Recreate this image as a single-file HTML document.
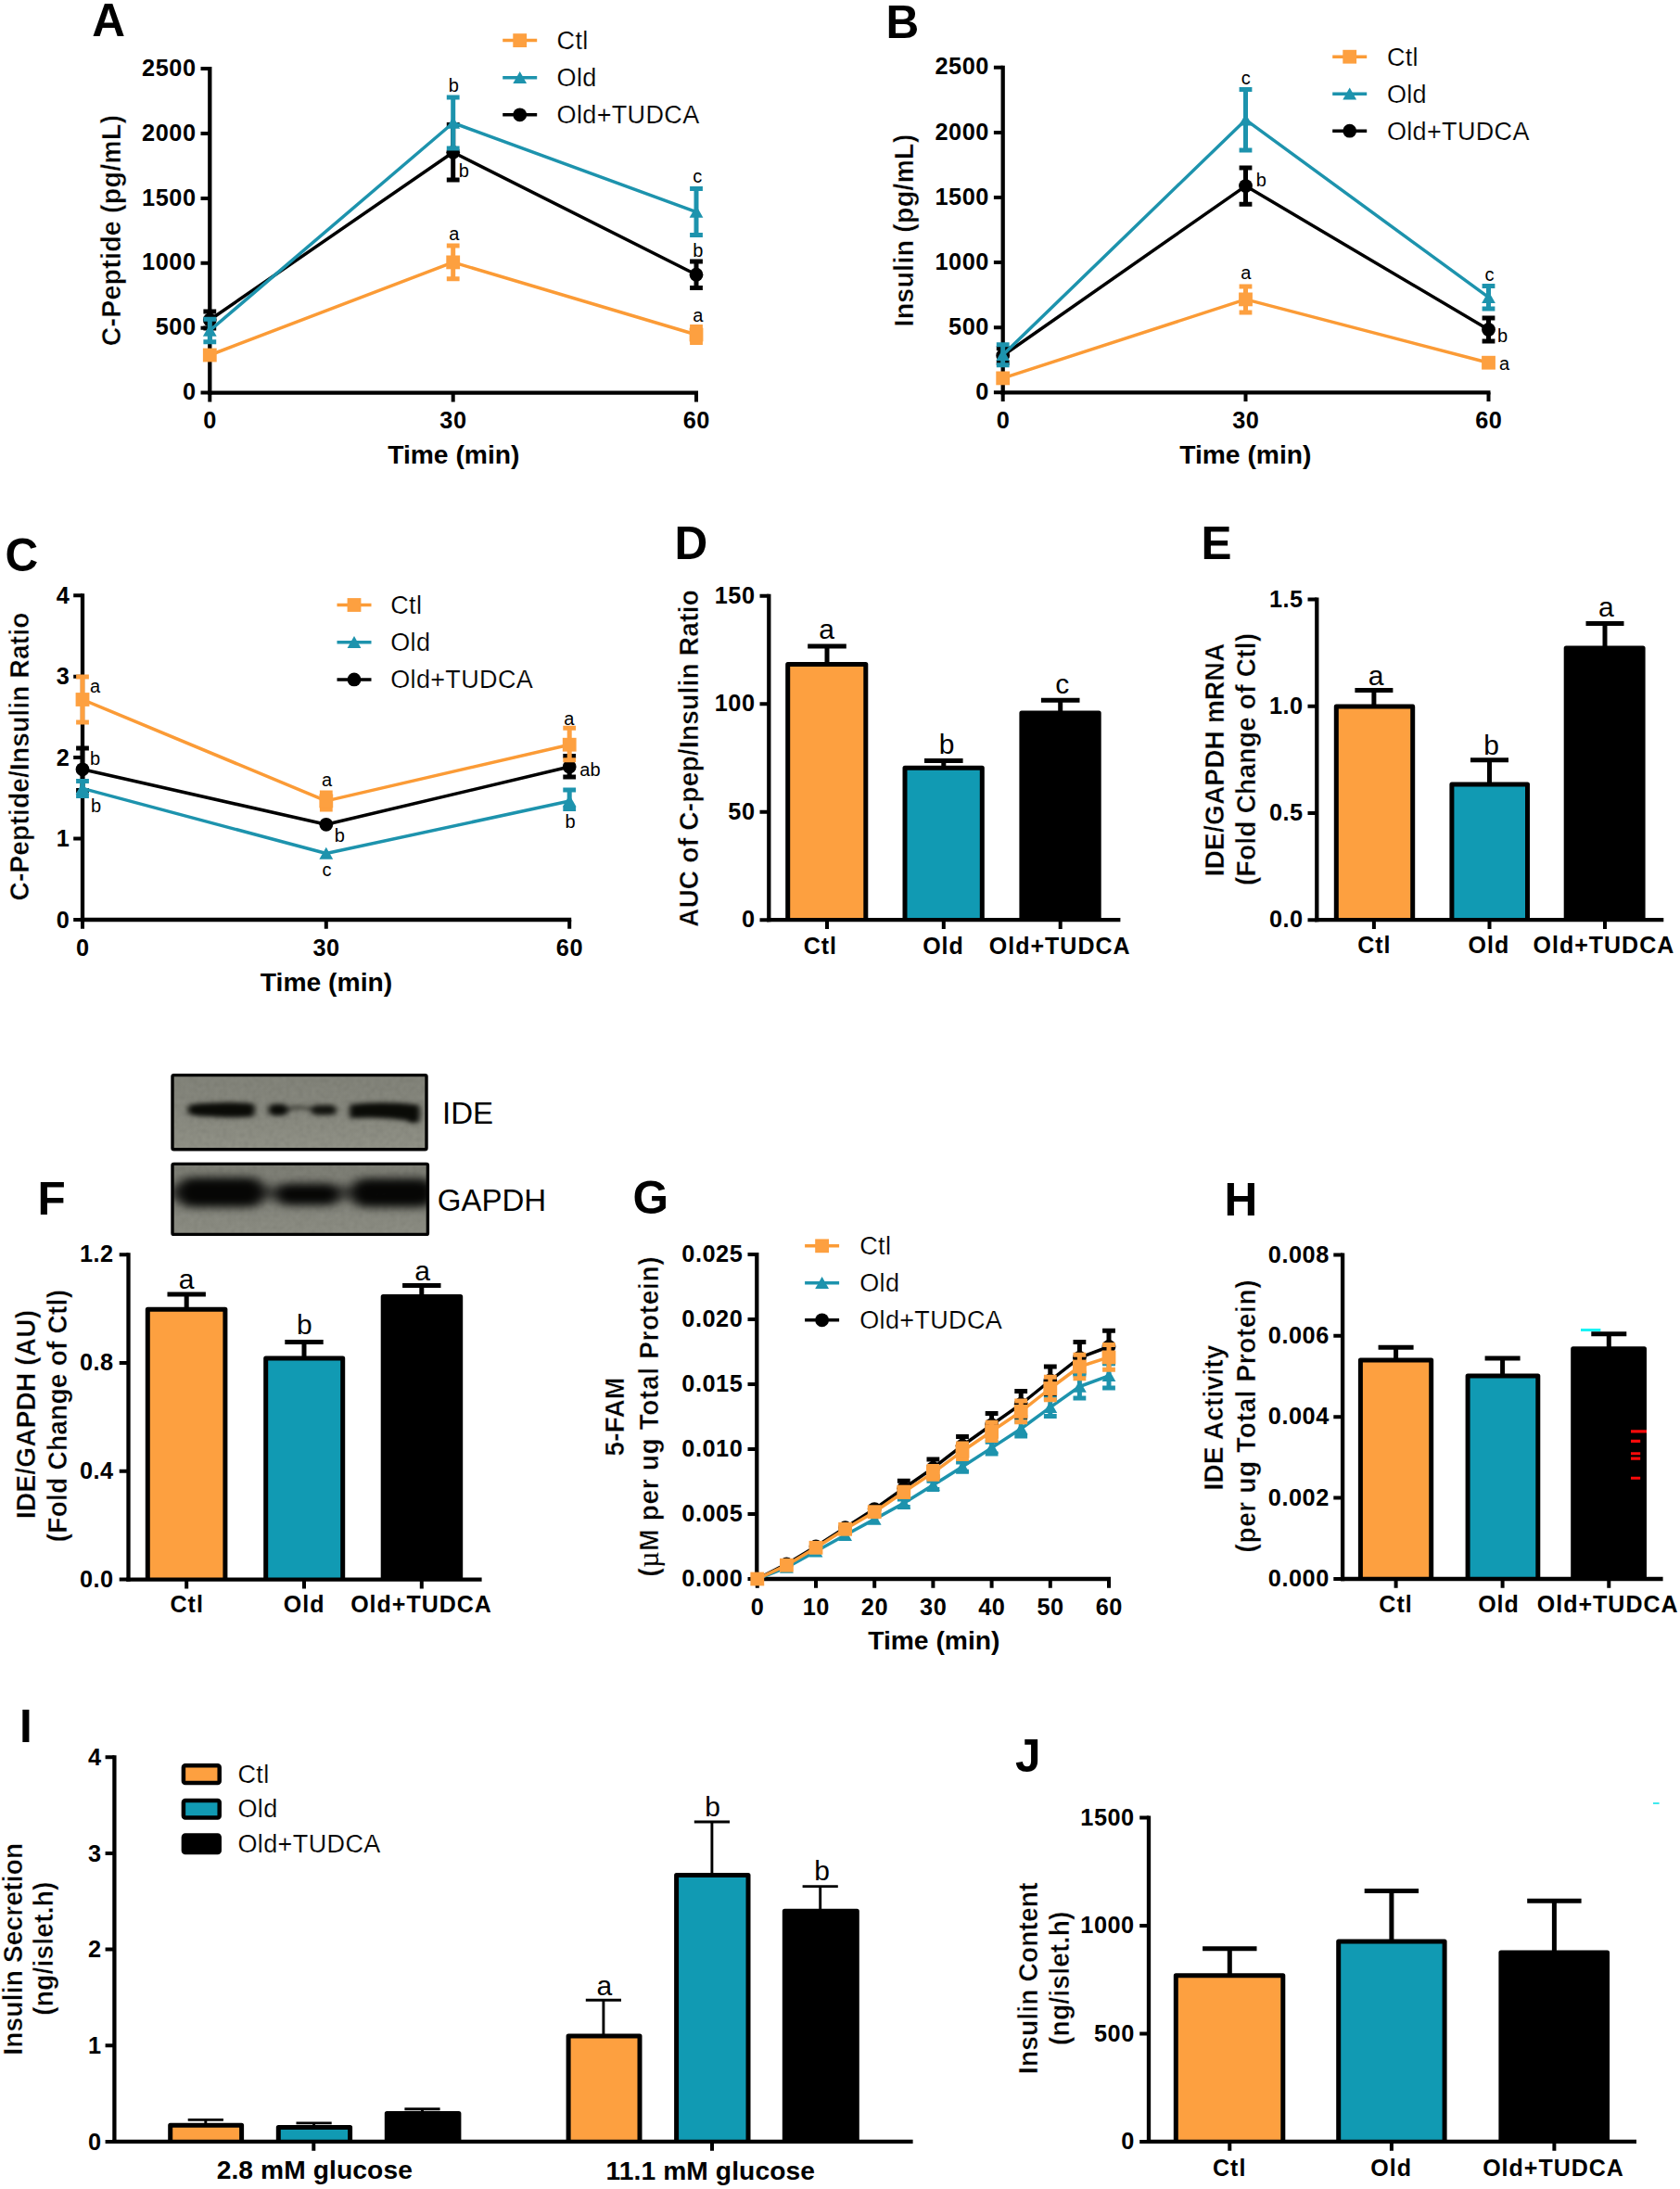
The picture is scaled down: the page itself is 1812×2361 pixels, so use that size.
<!DOCTYPE html>
<html lang="en">
<head>
<meta charset="utf-8">
<title>Figure</title>
<style>html,body{margin:0;padding:0;background:#fff}svg{display:block}</style>
</head>
<body>
<svg width="1812" height="2361" viewBox="0 0 1812 2361" font-family="'Liberation Sans', Arial, Helvetica, sans-serif" fill="#000">
<defs><filter id="b3" color-interpolation-filters="sRGB" x="-20%" y="-60%" width="140%" height="220%"><feGaussianBlur stdDeviation="3.2 2.4"/></filter><filter id="b5" color-interpolation-filters="sRGB" x="-20%" y="-70%" width="140%" height="240%"><feGaussianBlur stdDeviation="7 5"/></filter><filter id="nz" color-interpolation-filters="sRGB" x="0" y="0" width="100%" height="100%"><feTurbulence type="fractalNoise" baseFrequency="0.22" numOctaves="2" seed="4"/><feColorMatrix type="matrix" values="0 0 0 0 0  0 0 0 0 0  0 0 0 0 0  0.8 0 0 0 -0.28"/><feGaussianBlur stdDeviation="0.8"/></filter><clipPath id="c1"><rect x="186" y="1160" width="274" height="80"/></clipPath><clipPath id="c2"><rect x="186" y="1256" width="275" height="75"/></clipPath><linearGradient id="bg1" x1="0" y1="0" x2="0" y2="1"><stop offset="0" stop-color="#83847a"/><stop offset="0.55" stop-color="#898a80"/><stop offset="1" stop-color="#929388"/></linearGradient><linearGradient id="bg2" x1="0" y1="0" x2="0" y2="1"><stop offset="0" stop-color="#7d7e75"/><stop offset="1" stop-color="#8d8e84"/></linearGradient></defs>
<rect width="1812" height="2361" fill="#fff"/>
<g id="panelA">
<text x="99.3" y="38.6" font-size="49.5" font-weight="700">A</text>
<path d="M226.3 72.1V425.75" stroke="#000" stroke-width="4.3" fill="none"/>
<path d="M224.15 423.6H753" stroke="#000" stroke-width="4.3" fill="none"/>
<text x="211.55" y="431.2" font-size="25.3" font-weight="700" text-anchor="end" letter-spacing="0.55">0</text>
<text x="211.55" y="361.3" font-size="25.3" font-weight="700" text-anchor="end" letter-spacing="0.55">500</text>
<text x="211.55" y="291.4" font-size="25.3" font-weight="700" text-anchor="end" letter-spacing="0.55">1000</text>
<text x="211.55" y="221.5" font-size="25.3" font-weight="700" text-anchor="end" letter-spacing="0.55">1500</text>
<text x="211.55" y="151.6" font-size="25.3" font-weight="700" text-anchor="end" letter-spacing="0.55">2000</text>
<text x="211.55" y="81.7" font-size="25.3" font-weight="700" text-anchor="end" letter-spacing="0.55">2500</text>
<path d="M216.5 423.6H226.3M216.5 353.7H226.3M216.5 283.8H226.3M216.5 213.9H226.3M216.5 144H226.3M216.5 74.1H226.3M226.3 423.6V433.4M488.7 423.6V433.4M751 423.6V433.4" stroke="#000" stroke-width="4.0" fill="none"/>
<text x="226.58" y="461.9" font-size="25.3" font-weight="700" text-anchor="middle" letter-spacing="0.55">0</text>
<text x="488.97" y="461.9" font-size="25.3" font-weight="700" text-anchor="middle" letter-spacing="0.55">30</text>
<text x="751.27" y="461.9" font-size="25.3" font-weight="700" text-anchor="middle" letter-spacing="0.55">60</text>
<text x="489.3" y="500" font-size="28.25" font-weight="700" text-anchor="middle">Time (min)</text>
<text transform="translate(129.6 248.5) rotate(-90) scale(1 1.06)" font-size="28.5" font-weight="700" text-anchor="middle" stroke="#fff" stroke-width="0.4" letter-spacing="0.25">C-Peptide (pg/mL)</text>
<path d="M226.3 383L488.7 282.9L751 361" stroke="#FB9B36" stroke-width="3.5" fill="none" stroke-linejoin="round"/>
<path d="M488.7 265.1V300.7" stroke="#FDA040" stroke-width="5.0" fill="none"/>
<path d="M481.8 265.1h13.8M481.8 300.7h13.8" stroke="#FDA040" stroke-width="5.0" fill="none"/>
<path d="M751 352.6V369.4" stroke="#FDA040" stroke-width="5.0" fill="none"/>
<path d="M744.1 352.6h13.8M744.1 369.4h13.8" stroke="#FDA040" stroke-width="5.0" fill="none"/>
<rect x="218.9" y="375.6" width="14.8" height="14.8" fill="#FDA040"/>
<rect x="481.3" y="275.5" width="14.8" height="14.8" fill="#FDA040"/>
<rect x="743.6" y="353.6" width="14.8" height="14.8" fill="#FDA040"/>
<path d="M226.3 345L488.7 164.3L751 296.2" stroke="#000000" stroke-width="3.5" fill="none" stroke-linejoin="round"/>
<path d="M226.3 336V354" stroke="#000000" stroke-width="5.0" fill="none"/>
<path d="M219.4 336h13.8M219.4 354h13.8" stroke="#000000" stroke-width="5.0" fill="none"/>
<path d="M488.7 134.6V194" stroke="#000000" stroke-width="5.0" fill="none"/>
<path d="M481.8 134.6h13.8M481.8 194h13.8" stroke="#000000" stroke-width="5.0" fill="none"/>
<path d="M751 281.9V310.5" stroke="#000000" stroke-width="5.0" fill="none"/>
<path d="M744.1 281.9h13.8M744.1 310.5h13.8" stroke="#000000" stroke-width="5.0" fill="none"/>
<circle cx="226.3" cy="345" r="7.4" fill="#000000"/>
<circle cx="488.7" cy="164.3" r="7.4" fill="#000000"/>
<circle cx="751" cy="296.2" r="7.4" fill="#000000"/>
<path d="M226.3 356.5L488.7 132.5L751 228.6" stroke="#1D93AD" stroke-width="3.5" fill="none" stroke-linejoin="round"/>
<path d="M226.3 344.2V368.8" stroke="#1D93AD" stroke-width="5.0" fill="none"/>
<path d="M219.4 344.2h13.8M219.4 368.8h13.8" stroke="#1D93AD" stroke-width="5.0" fill="none"/>
<path d="M488.7 105V160" stroke="#1D93AD" stroke-width="5.0" fill="none"/>
<path d="M481.8 105h13.8M481.8 160h13.8" stroke="#1D93AD" stroke-width="5.0" fill="none"/>
<path d="M751 203.6V253.6" stroke="#1D93AD" stroke-width="5.0" fill="none"/>
<path d="M744.1 203.6h13.8M744.1 253.6h13.8" stroke="#1D93AD" stroke-width="5.0" fill="none"/>
<path d="M226.3 349.7L233.7 362.7H218.9Z" fill="#1D93AD"/>
<path d="M488.7 125.7L496.1 138.7H481.3Z" fill="#1D93AD"/>
<path d="M751 221.8L758.4 234.8H743.6Z" fill="#1D93AD"/>
<path d="M542.2 43.6h37" stroke="#FB9B36" stroke-width="3.5" fill="none"/>
<rect x="553.3" y="36.2" width="14.8" height="14.8" fill="#FDA040"/>
<text x="600.6" y="53" font-size="27" letter-spacing="0.35" stroke="#fff" stroke-width="0.2">Ctl</text>
<path d="M542.2 83.7h37" stroke="#1D93AD" stroke-width="3.5" fill="none"/>
<path d="M560.7 76.9L568.1 89.9H553.3Z" fill="#1D93AD"/>
<text x="600.6" y="93.1" font-size="27" letter-spacing="0.35" stroke="#fff" stroke-width="0.2">Old</text>
<path d="M542.2 123.8h37" stroke="#000000" stroke-width="3.5" fill="none"/>
<circle cx="560.7" cy="123.8" r="7.4" fill="#000000"/>
<text x="600.6" y="133.2" font-size="27" letter-spacing="0.35" stroke="#fff" stroke-width="0.2">Old+TUDCA</text>
<text x="489.3" y="98.8" font-size="20" text-anchor="middle">b</text>
<text x="500.2" y="190.5" font-size="20" text-anchor="middle">b</text>
<text x="752.3" y="197.4" font-size="20" text-anchor="middle">c</text>
<text x="489.7" y="258.6" font-size="20" text-anchor="middle">a</text>
<text x="752.8" y="277" font-size="20" text-anchor="middle">b</text>
<text x="752.8" y="347" font-size="20" text-anchor="middle">a</text>
</g>
<g id="panelB">
<text x="955.5" y="41" font-size="49.5" font-weight="700">B</text>
<path d="M1081.7 70.8V425.45" stroke="#000" stroke-width="4.3" fill="none"/>
<path d="M1079.55 423.3H1607.5" stroke="#000" stroke-width="4.3" fill="none"/>
<text x="1066.95" y="430.9" font-size="25.3" font-weight="700" text-anchor="end" letter-spacing="0.55">0</text>
<text x="1066.95" y="360.8" font-size="25.3" font-weight="700" text-anchor="end" letter-spacing="0.55">500</text>
<text x="1066.95" y="290.7" font-size="25.3" font-weight="700" text-anchor="end" letter-spacing="0.55">1000</text>
<text x="1066.95" y="220.6" font-size="25.3" font-weight="700" text-anchor="end" letter-spacing="0.55">1500</text>
<text x="1066.95" y="150.5" font-size="25.3" font-weight="700" text-anchor="end" letter-spacing="0.55">2000</text>
<text x="1066.95" y="80.4" font-size="25.3" font-weight="700" text-anchor="end" letter-spacing="0.55">2500</text>
<path d="M1071.9 423.3H1081.7M1071.9 353.2H1081.7M1071.9 283.1H1081.7M1071.9 213H1081.7M1071.9 142.9H1081.7M1071.9 72.8H1081.7M1081.7 423.3V433.1M1343.5 423.3V433.1M1605.5 423.3V433.1" stroke="#000" stroke-width="4.0" fill="none"/>
<text x="1081.98" y="461.6" font-size="25.3" font-weight="700" text-anchor="middle" letter-spacing="0.55">0</text>
<text x="1343.78" y="461.6" font-size="25.3" font-weight="700" text-anchor="middle" letter-spacing="0.55">30</text>
<text x="1605.78" y="461.6" font-size="25.3" font-weight="700" text-anchor="middle" letter-spacing="0.55">60</text>
<text x="1343.3" y="500" font-size="28.25" font-weight="700" text-anchor="middle">Time (min)</text>
<text transform="translate(985.3 248.5) rotate(-90) scale(1 1.06)" font-size="28.5" font-weight="700" text-anchor="middle" stroke="#fff" stroke-width="0.4" letter-spacing="0.25">Insulin (pg/mL)</text>
<path d="M1081.7 407.9L1343.5 322.9L1605.5 391.2" stroke="#FB9B36" stroke-width="3.5" fill="none" stroke-linejoin="round"/>
<path d="M1343.5 308.9V336.9" stroke="#FDA040" stroke-width="5.0" fill="none"/>
<path d="M1336.6 308.9h13.8M1336.6 336.9h13.8" stroke="#FDA040" stroke-width="5.0" fill="none"/>
<rect x="1074.3" y="400.5" width="14.8" height="14.8" fill="#FDA040"/>
<rect x="1336.1" y="315.5" width="14.8" height="14.8" fill="#FDA040"/>
<rect x="1598.1" y="383.8" width="14.8" height="14.8" fill="#FDA040"/>
<path d="M1081.7 383.5L1343.5 200.6L1605.5 355.5" stroke="#000000" stroke-width="3.5" fill="none" stroke-linejoin="round"/>
<path d="M1081.7 375.5V391.5" stroke="#000000" stroke-width="5.0" fill="none"/>
<path d="M1074.8 375.5h13.8M1074.8 391.5h13.8" stroke="#000000" stroke-width="5.0" fill="none"/>
<path d="M1343.5 181V220.2" stroke="#000000" stroke-width="5.0" fill="none"/>
<path d="M1336.6 181h13.8M1336.6 220.2h13.8" stroke="#000000" stroke-width="5.0" fill="none"/>
<path d="M1605.5 342.9V368.1" stroke="#000000" stroke-width="5.0" fill="none"/>
<path d="M1598.6 342.9h13.8M1598.6 368.1h13.8" stroke="#000000" stroke-width="5.0" fill="none"/>
<circle cx="1081.7" cy="383.5" r="7.4" fill="#000000"/>
<circle cx="1343.5" cy="200.6" r="7.4" fill="#000000"/>
<circle cx="1605.5" cy="355.5" r="7.4" fill="#000000"/>
<path d="M1081.7 382.7L1343.5 129.2L1605.5 320.7" stroke="#1D93AD" stroke-width="3.5" fill="none" stroke-linejoin="round"/>
<path d="M1081.7 371.7V393.7" stroke="#1D93AD" stroke-width="5.0" fill="none"/>
<path d="M1074.8 371.7h13.8M1074.8 393.7h13.8" stroke="#1D93AD" stroke-width="5.0" fill="none"/>
<path d="M1343.5 96.4V162" stroke="#1D93AD" stroke-width="5.0" fill="none"/>
<path d="M1336.6 96.4h13.8M1336.6 162h13.8" stroke="#1D93AD" stroke-width="5.0" fill="none"/>
<path d="M1605.5 308.5V332.9" stroke="#1D93AD" stroke-width="5.0" fill="none"/>
<path d="M1598.6 308.5h13.8M1598.6 332.9h13.8" stroke="#1D93AD" stroke-width="5.0" fill="none"/>
<path d="M1081.7 375.9L1089.1 388.9H1074.3Z" fill="#1D93AD"/>
<path d="M1343.5 122.4L1350.9 135.4H1336.1Z" fill="#1D93AD"/>
<path d="M1605.5 313.9L1612.9 326.9H1598.1Z" fill="#1D93AD"/>
<path d="M1437.2 61.2h37" stroke="#FB9B36" stroke-width="3.5" fill="none"/>
<rect x="1448.3" y="53.8" width="14.8" height="14.8" fill="#FDA040"/>
<text x="1495.9" y="70.6" font-size="27" letter-spacing="0.35" stroke="#fff" stroke-width="0.2">Ctl</text>
<path d="M1437.2 101.2h37" stroke="#1D93AD" stroke-width="3.5" fill="none"/>
<path d="M1455.7 94.4L1463.1 107.4H1448.3Z" fill="#1D93AD"/>
<text x="1495.9" y="110.6" font-size="27" letter-spacing="0.35" stroke="#fff" stroke-width="0.2">Old</text>
<path d="M1437.2 141.2h37" stroke="#000000" stroke-width="3.5" fill="none"/>
<circle cx="1455.7" cy="141.2" r="7.4" fill="#000000"/>
<text x="1495.9" y="150.6" font-size="27" letter-spacing="0.35" stroke="#fff" stroke-width="0.2">Old+TUDCA</text>
<text x="1343.8" y="90.5" font-size="20" text-anchor="middle">c</text>
<text x="1360.3" y="200.5" font-size="20" text-anchor="middle">b</text>
<text x="1343.8" y="300.7" font-size="20" text-anchor="middle">a</text>
<text x="1606.5" y="303" font-size="20" text-anchor="middle">c</text>
<text x="1620.6" y="368.6" font-size="20" text-anchor="middle">b</text>
<text x="1622.5" y="399" font-size="20" text-anchor="middle">a</text>
</g>
<g id="panelC">
<text x="5.5" y="616" font-size="49.5" font-weight="700">C</text>
<path d="M89 640.2V994.15" stroke="#000" stroke-width="4.3" fill="none"/>
<path d="M86.85 992H616.2" stroke="#000" stroke-width="4.3" fill="none"/>
<text x="75.25" y="1000.6" font-size="25.3" font-weight="700" text-anchor="end" letter-spacing="0.55">0</text>
<text x="75.25" y="913.15" font-size="25.3" font-weight="700" text-anchor="end" letter-spacing="0.55">1</text>
<text x="75.25" y="825.7" font-size="25.3" font-weight="700" text-anchor="end" letter-spacing="0.55">2</text>
<text x="75.25" y="738.25" font-size="25.3" font-weight="700" text-anchor="end" letter-spacing="0.55">3</text>
<text x="75.25" y="650.8" font-size="25.3" font-weight="700" text-anchor="end" letter-spacing="0.55">4</text>
<path d="M79.2 992H89M79.2 904.55H89M79.2 817.1H89M79.2 729.65H89M79.2 642.2H89M89 992V1001.8M351.8 992V1001.8M614.2 992V1001.8" stroke="#000" stroke-width="4.0" fill="none"/>
<text x="89.28" y="1030.8" font-size="25.3" font-weight="700" text-anchor="middle" letter-spacing="0.55">0</text>
<text x="352.07" y="1030.8" font-size="25.3" font-weight="700" text-anchor="middle" letter-spacing="0.55">30</text>
<text x="614.48" y="1030.8" font-size="25.3" font-weight="700" text-anchor="middle" letter-spacing="0.55">60</text>
<text x="352" y="1069" font-size="28.25" font-weight="700" text-anchor="middle">Time (min)</text>
<text transform="translate(31.2 816) rotate(-90) scale(1 1.06)" font-size="28" font-weight="700" text-anchor="middle" stroke="#fff" stroke-width="0.4" letter-spacing="0.2">C-Peptide/Insulin Ratio</text>
<path d="M89 829.8L351.8 889.3L614.2 827" stroke="#000000" stroke-width="3.5" fill="none" stroke-linejoin="round"/>
<path d="M89 807V852.6" stroke="#000000" stroke-width="5.0" fill="none"/>
<path d="M82.1 807h13.8M82.1 852.6h13.8" stroke="#000000" stroke-width="5.0" fill="none"/>
<path d="M614.2 815.5V838" stroke="#000000" stroke-width="5.0" fill="none"/>
<path d="M607.3 815.5h13.8M607.3 838h13.8" stroke="#000000" stroke-width="5.0" fill="none"/>
<circle cx="89" cy="829.8" r="7.4" fill="#000000"/>
<circle cx="351.8" cy="889.3" r="7.4" fill="#000000"/>
<circle cx="614.2" cy="827" r="7.4" fill="#000000"/>
<path d="M89 850.4L351.8 920.5L614.2 864" stroke="#1D93AD" stroke-width="3.5" fill="none" stroke-linejoin="round"/>
<path d="M89 842.4V858.4" stroke="#1D93AD" stroke-width="5.0" fill="none"/>
<path d="M82.1 842.4h13.8M82.1 858.4h13.8" stroke="#1D93AD" stroke-width="5.0" fill="none"/>
<path d="M614.2 852V872.6" stroke="#1D93AD" stroke-width="5.0" fill="none"/>
<path d="M607.3 852h13.8M607.3 872.6h13.8" stroke="#1D93AD" stroke-width="5.0" fill="none"/>
<path d="M89 843.6L96.4 856.6H81.6Z" fill="#1D93AD"/>
<path d="M351.8 913.7L359.2 926.7H344.4Z" fill="#1D93AD"/>
<path d="M614.2 857.2L621.6 870.2H606.8Z" fill="#1D93AD"/>
<path d="M89 754.5L351.8 863.9L614.2 803.2" stroke="#FB9B36" stroke-width="3.5" fill="none" stroke-linejoin="round"/>
<path d="M89 730V779" stroke="#FDA040" stroke-width="5.0" fill="none"/>
<path d="M82.1 730h13.8M82.1 779h13.8" stroke="#FDA040" stroke-width="5.0" fill="none"/>
<path d="M351.8 854.9V872.9" stroke="#FDA040" stroke-width="5.0" fill="none"/>
<path d="M344.9 854.9h13.8M344.9 872.9h13.8" stroke="#FDA040" stroke-width="5.0" fill="none"/>
<path d="M614.2 785.2V819.8" stroke="#FDA040" stroke-width="5.0" fill="none"/>
<path d="M607.3 785.2h13.8M607.3 819.8h13.8" stroke="#FDA040" stroke-width="5.0" fill="none"/>
<rect x="81.6" y="747.1" width="14.8" height="14.8" fill="#FDA040"/>
<rect x="344.4" y="856.5" width="14.8" height="14.8" fill="#FDA040"/>
<rect x="606.8" y="795.8" width="14.8" height="14.8" fill="#FDA040"/>
<path d="M363.5 652.5h37" stroke="#FB9B36" stroke-width="3.5" fill="none"/>
<rect x="374.6" y="645.1" width="14.8" height="14.8" fill="#FDA040"/>
<text x="421.2" y="661.9" font-size="27" letter-spacing="0.35" stroke="#fff" stroke-width="0.2">Ctl</text>
<path d="M363.5 692.7h37" stroke="#1D93AD" stroke-width="3.5" fill="none"/>
<path d="M382 685.9L389.4 698.9H374.6Z" fill="#1D93AD"/>
<text x="421.2" y="702.1" font-size="27" letter-spacing="0.35" stroke="#fff" stroke-width="0.2">Old</text>
<path d="M363.5 732.9h37" stroke="#000000" stroke-width="3.5" fill="none"/>
<circle cx="382" cy="732.9" r="7.4" fill="#000000"/>
<text x="421.2" y="742.3" font-size="27" letter-spacing="0.35" stroke="#fff" stroke-width="0.2">Old+TUDCA</text>
<text x="102.6" y="746.9" font-size="20" text-anchor="middle">a</text>
<text x="102.6" y="825" font-size="20" text-anchor="middle">b</text>
<text x="103.5" y="875.7" font-size="20" text-anchor="middle">b</text>
<text x="352.6" y="847.6" font-size="20" text-anchor="middle">a</text>
<text x="366.4" y="907.6" font-size="20" text-anchor="middle">b</text>
<text x="352.6" y="945" font-size="20" text-anchor="middle">c</text>
<text x="613.8" y="781.7" font-size="20" text-anchor="middle">a</text>
<text x="625.3" y="836.9" font-size="20">ab</text>
<text x="615" y="892.6" font-size="20" text-anchor="middle">b</text>
</g>
<g id="panelD">
<text x="727.5" y="603" font-size="49.5" font-weight="700">D</text>
<path d="M849.7 992.2V716.5H933.8V992.2" fill="#FDA040" stroke="#000" stroke-width="5.0" stroke-linejoin="round"/>
<path d="M976 992.2V828.2H1059.3V992.2" fill="#119AB3" stroke="#000" stroke-width="5.0" stroke-linejoin="round"/>
<path d="M1101.9 992.2V768.9H1185.2V992.2" fill="#000000" stroke="#000" stroke-width="5.0" stroke-linejoin="round"/>
<path d="M892 716V696.9M871.2 696.9h41.6" stroke="#000" stroke-width="5.0" fill="none"/>
<path d="M1017.8 828V820.4M997 820.4h41.6" stroke="#000" stroke-width="5.0" fill="none"/>
<path d="M1143.7 768V755.2M1122.9 755.2h41.6" stroke="#000" stroke-width="5.0" fill="none"/>
<path d="M829.3 640.7V994.35" stroke="#000" stroke-width="4.3" fill="none"/>
<path d="M827.15 992.2H1208.4" stroke="#000" stroke-width="4.3" fill="none"/>
<text x="814.55" y="1000.4" font-size="25.3" font-weight="700" text-anchor="end" letter-spacing="0.55">0</text>
<text x="814.55" y="883.9" font-size="25.3" font-weight="700" text-anchor="end" letter-spacing="0.55">50</text>
<text x="814.55" y="767.4" font-size="25.3" font-weight="700" text-anchor="end" letter-spacing="0.55">100</text>
<text x="814.55" y="650.9" font-size="25.3" font-weight="700" text-anchor="end" letter-spacing="0.55">150</text>
<path d="M819.5 992.2H829.3M819.5 875.7H829.3M819.5 759.2H829.3M819.5 642.7H829.3M892 992.2V1002M1017.8 992.2V1002M1143.7 992.2V1002" stroke="#000" stroke-width="4.0" fill="none"/>
<text x="884.8" y="1029.2" font-size="25" font-weight="700" text-anchor="middle" letter-spacing="1">Ctl</text>
<text x="1017.5" y="1029.2" font-size="25" font-weight="700" text-anchor="middle" letter-spacing="1">Old</text>
<text x="1143.2" y="1029.2" font-size="25" font-weight="700" text-anchor="middle" letter-spacing="1">Old+TUDCA</text>
<text transform="translate(753 818) rotate(-90) scale(1 1.06)" font-size="28" font-weight="700" text-anchor="middle" stroke="#fff" stroke-width="0.4" letter-spacing="0.25">AUC of C-pep/Insulin Ratio</text>
<text x="891.6" y="689" font-size="30" text-anchor="middle">a</text>
<text x="1021.2" y="812.8" font-size="30" text-anchor="middle">b</text>
<text x="1145.7" y="748" font-size="30" text-anchor="middle">c</text>
</g>
<g id="panelE">
<text x="1295.5" y="603" font-size="49.5" font-weight="700">E</text>
<path d="M1441.3 992.2V762.1H1523.7V992.2" fill="#FDA040" stroke="#000" stroke-width="5.0" stroke-linejoin="round"/>
<path d="M1565.9 992.2V845.9H1647.5V992.2" fill="#119AB3" stroke="#000" stroke-width="5.0" stroke-linejoin="round"/>
<path d="M1689.2 992.2V698.9H1772.1V992.2" fill="#000000" stroke="#000" stroke-width="5.0" stroke-linejoin="round"/>
<path d="M1481.9 762V744.4M1461.4 744.4h41" stroke="#000" stroke-width="5.0" fill="none"/>
<path d="M1606.5 846V819.7M1586 819.7h41" stroke="#000" stroke-width="5.0" fill="none"/>
<path d="M1731 699V672.5M1710.5 672.5h41" stroke="#000" stroke-width="5.0" fill="none"/>
<path d="M1420.3 644.6V994.35" stroke="#000" stroke-width="4.3" fill="none"/>
<path d="M1418.15 992.2H1794.3" stroke="#000" stroke-width="4.3" fill="none"/>
<text x="1405.75" y="1000.1" font-size="25.3" font-weight="700" text-anchor="end" letter-spacing="0.55">0.0</text>
<text x="1405.75" y="884.9" font-size="25.3" font-weight="700" text-anchor="end" letter-spacing="0.55">0.5</text>
<text x="1405.75" y="769.7" font-size="25.3" font-weight="700" text-anchor="end" letter-spacing="0.55">1.0</text>
<text x="1405.75" y="654.5" font-size="25.3" font-weight="700" text-anchor="end" letter-spacing="0.55">1.5</text>
<path d="M1410.5 992.2H1420.3M1410.5 877H1420.3M1410.5 761.8H1420.3M1410.5 646.6H1420.3M1481.9 992.2V1002M1606.5 992.2V1002M1731 992.2V1002" stroke="#000" stroke-width="4.0" fill="none"/>
<text x="1482.3" y="1028" font-size="25" font-weight="700" text-anchor="middle" letter-spacing="1">Ctl</text>
<text x="1605.9" y="1028" font-size="25" font-weight="700" text-anchor="middle" letter-spacing="1">Old</text>
<text x="1729.9" y="1028" font-size="25" font-weight="700" text-anchor="middle" letter-spacing="1">Old+TUDCA</text>
<text transform="translate(1319.8 819.5) rotate(-90) scale(1 1.06)" font-size="28" font-weight="700" text-anchor="middle" stroke="#fff" stroke-width="0.4" letter-spacing="0.2">IDE/GAPDH mRNA</text>
<text transform="translate(1354 818.8) rotate(-90) scale(1 1.06)" font-size="28" font-weight="700" text-anchor="middle" stroke="#fff" stroke-width="0.4" letter-spacing="0.25">(Fold Change of Ctl)</text>
<text x="1484" y="739.4" font-size="30" text-anchor="middle">a</text>
<text x="1608.5" y="813.9" font-size="30" text-anchor="middle">b</text>
<text x="1732.3" y="665.3" font-size="30" text-anchor="middle">a</text>
</g>
<g id="panelF">
<text x="40.5" y="1310" font-size="49.5" font-weight="700">F</text>
<rect x="186" y="1159.6" width="274" height="80.2" fill="url(#bg1)"/>
<g clip-path="url(#c1)"><g filter="url(#b3)" fill="#0b0c08" transform="translate(0 1.2)"><path d="M204 1191q6 -2.5 22 -2.5q30 -2 48 1q2 7 -1 13.5q-22 2 -46 0q-18 0 -23 -3q-3 -4 0 -9z"/><rect x="289.5" y="1189.5" width="21" height="12.5" rx="6"/><path d="M309 1193q12 -4 28 0v4q-14 -3 -28 1z" opacity="0.5"/><rect x="335.5" y="1190.5" width="27.5" height="11" rx="5.5" opacity="0.92"/><path d="M378 1190q35 -4 74 0.5q2 9 0 18q-7 4 -14 -1.5q-30 -4 -60 -2q-2 -8 0 -15z"/></g><rect x="186" y="1160" width="274" height="80" filter="url(#nz)" opacity="0.2"/></g>
<rect x="186" y="1159.6" width="274" height="80.2" rx="1.5" fill="none" stroke="#000" stroke-width="3.4"/>
<rect x="186" y="1255.4" width="275.4" height="76" fill="url(#bg2)"/>
<g clip-path="url(#c2)"><g filter="url(#b5)" fill="#070806"><rect x="190" y="1270" width="96" height="32" rx="16"/><rect x="297" y="1276.5" width="70" height="23.5" rx="12"/><rect x="378" y="1271" width="92" height="31" rx="15.5"/><rect x="180" y="1279" width="290" height="15" opacity="0.42"/></g><rect x="186" y="1256" width="275" height="75" filter="url(#nz)" opacity="0.18"/></g>
<rect x="186" y="1255.4" width="275.4" height="76" rx="1.5" fill="none" stroke="#000" stroke-width="3.4"/>
<text x="477" y="1211.6" font-size="33">IDE</text>
<text x="471.8" y="1305.6" font-size="33">GAPDH</text>
<path d="M159.3 1703.6V1412.3H242.9V1703.6" fill="#FDA040" stroke="#000" stroke-width="5.0" stroke-linejoin="round"/>
<path d="M286.7 1703.6V1464.9H369.7V1703.6" fill="#119AB3" stroke="#000" stroke-width="5.0" stroke-linejoin="round"/>
<path d="M413.2 1703.6V1398.5H496.7V1703.6" fill="#000000" stroke="#000" stroke-width="5.0" stroke-linejoin="round"/>
<path d="M201.2 1412V1396M180.5 1396h41.4" stroke="#000" stroke-width="5.0" fill="none"/>
<path d="M328 1465V1447.6M307.3 1447.6h41.4" stroke="#000" stroke-width="5.0" fill="none"/>
<path d="M454.8 1398V1386.4M434.1 1386.4h41.4" stroke="#000" stroke-width="5.0" fill="none"/>
<path d="M138.5 1351.2V1705.75" stroke="#000" stroke-width="4.3" fill="none"/>
<path d="M136.35 1703.6H519.6" stroke="#000" stroke-width="4.3" fill="none"/>
<text x="122.75" y="1711.8" font-size="25.3" font-weight="700" text-anchor="end" letter-spacing="0.55">0.0</text>
<text x="122.75" y="1595" font-size="25.3" font-weight="700" text-anchor="end" letter-spacing="0.55">0.4</text>
<text x="122.75" y="1478.2" font-size="25.3" font-weight="700" text-anchor="end" letter-spacing="0.55">0.8</text>
<text x="122.75" y="1361.4" font-size="25.3" font-weight="700" text-anchor="end" letter-spacing="0.55">1.2</text>
<path d="M128.7 1703.6H138.5M128.7 1586.8H138.5M128.7 1470H138.5M128.7 1353.2H138.5M201.2 1703.6V1713.4M328 1703.6V1713.4M454.8 1703.6V1713.4" stroke="#000" stroke-width="4.0" fill="none"/>
<text x="201.7" y="1739.4" font-size="25" font-weight="700" text-anchor="middle" letter-spacing="1">Ctl</text>
<text x="328.1" y="1739.4" font-size="25" font-weight="700" text-anchor="middle" letter-spacing="1">Old</text>
<text x="454.5" y="1739.4" font-size="25" font-weight="700" text-anchor="middle" letter-spacing="1">Old+TUDCA</text>
<text transform="translate(37.6 1525.4) rotate(-90) scale(1 1.06)" font-size="28" font-weight="700" text-anchor="middle" stroke="#fff" stroke-width="0.4" letter-spacing="0.2">IDE/GAPDH (AU)</text>
<text transform="translate(72 1527) rotate(-90) scale(1 1.06)" font-size="28" font-weight="700" text-anchor="middle" stroke="#fff" stroke-width="0.4" letter-spacing="0.25">(Fold Change of Ctl)</text>
<text x="201.1" y="1389.6" font-size="30" text-anchor="middle">a</text>
<text x="328.4" y="1439.2" font-size="30" text-anchor="middle">b</text>
<text x="455.7" y="1381.3" font-size="30" text-anchor="middle">a</text>
</g>
<g id="panelG">
<text x="682.5" y="1309" font-size="49.5" font-weight="700">G</text>
<path d="M816.3 1351V1705.15" stroke="#000" stroke-width="4.3" fill="none"/>
<path d="M814.15 1703H1198" stroke="#000" stroke-width="4.3" fill="none"/>
<text x="801.35" y="1711.2" font-size="25.3" font-weight="700" text-anchor="end" letter-spacing="0.55">0.000</text>
<text x="801.35" y="1641.2" font-size="25.3" font-weight="700" text-anchor="end" letter-spacing="0.55">0.005</text>
<text x="801.35" y="1571.2" font-size="25.3" font-weight="700" text-anchor="end" letter-spacing="0.55">0.010</text>
<text x="801.35" y="1501.2" font-size="25.3" font-weight="700" text-anchor="end" letter-spacing="0.55">0.015</text>
<text x="801.35" y="1431.2" font-size="25.3" font-weight="700" text-anchor="end" letter-spacing="0.55">0.020</text>
<text x="801.35" y="1361.2" font-size="25.3" font-weight="700" text-anchor="end" letter-spacing="0.55">0.025</text>
<path d="M806.5 1703H816.3M806.5 1633H816.3M806.5 1563H816.3M806.5 1493H816.3M806.5 1423H816.3M806.5 1353H816.3M816.8 1703V1712.8M880 1703V1712.8M943.2 1703V1712.8M1006.4 1703V1712.8M1069.6 1703V1712.8M1132.8 1703V1712.8M1196 1703V1712.8" stroke="#000" stroke-width="4.0" fill="none"/>
<text x="817.07" y="1741.6" font-size="25.3" font-weight="700" text-anchor="middle" letter-spacing="0.55">0</text>
<text x="880.27" y="1741.6" font-size="25.3" font-weight="700" text-anchor="middle" letter-spacing="0.55">10</text>
<text x="943.47" y="1741.6" font-size="25.3" font-weight="700" text-anchor="middle" letter-spacing="0.55">20</text>
<text x="1006.67" y="1741.6" font-size="25.3" font-weight="700" text-anchor="middle" letter-spacing="0.55">30</text>
<text x="1069.88" y="1741.6" font-size="25.3" font-weight="700" text-anchor="middle" letter-spacing="0.55">40</text>
<text x="1133.08" y="1741.6" font-size="25.3" font-weight="700" text-anchor="middle" letter-spacing="0.55">50</text>
<text x="1196.28" y="1741.6" font-size="25.3" font-weight="700" text-anchor="middle" letter-spacing="0.55">60</text>
<text x="1007.3" y="1779.2" font-size="28.25" font-weight="700" text-anchor="middle">Time (min)</text>
<text transform="translate(673 1528) rotate(-90) scale(1 1.06)" font-size="28" font-weight="700" text-anchor="middle" stroke="#fff" stroke-width="0.4" letter-spacing="0.2">5-FAM</text>
<text transform="translate(710.2 1527.7) rotate(-90) scale(1 1.06)" font-size="28" font-weight="700" text-anchor="middle" stroke="#fff" stroke-width="0.4" letter-spacing="0.66">(<tspan font-family="'Liberation Serif', serif" font-weight="400" font-size="30" stroke="none">&#181;</tspan>M per ug Total Protein)</text>
<path d="M816.8 1703L848.4 1686.9L880 1668L911.6 1647.7L943.2 1627.6L974.8 1605.3L1006.4 1583.4L1038 1559.2L1069.6 1536.8L1101.2 1514.5L1132.8 1489L1164.4 1464.3L1196 1452.5" stroke="#000000" stroke-width="3.5" fill="none" stroke-linejoin="round"/>
<path d="M974.8 1597.3V1613.3" stroke="#000000" stroke-width="5.0" fill="none"/>
<path d="M967.9 1597.3h13.8M967.9 1613.3h13.8" stroke="#000000" stroke-width="5.0" fill="none"/>
<path d="M1006.4 1574.1V1592.7" stroke="#000000" stroke-width="5.0" fill="none"/>
<path d="M999.5 1574.1h13.8M999.5 1592.7h13.8" stroke="#000000" stroke-width="5.0" fill="none"/>
<path d="M1038 1549.6V1568.8" stroke="#000000" stroke-width="5.0" fill="none"/>
<path d="M1031.1 1549.6h13.8M1031.1 1568.8h13.8" stroke="#000000" stroke-width="5.0" fill="none"/>
<path d="M1069.6 1524.6V1549" stroke="#000000" stroke-width="5.0" fill="none"/>
<path d="M1062.7 1524.6h13.8M1062.7 1549h13.8" stroke="#000000" stroke-width="5.0" fill="none"/>
<path d="M1101.2 1500.5V1528.5" stroke="#000000" stroke-width="5.0" fill="none"/>
<path d="M1094.3 1500.5h13.8M1094.3 1528.5h13.8" stroke="#000000" stroke-width="5.0" fill="none"/>
<path d="M1132.8 1473.9V1504.1" stroke="#000000" stroke-width="5.0" fill="none"/>
<path d="M1125.9 1473.9h13.8M1125.9 1504.1h13.8" stroke="#000000" stroke-width="5.0" fill="none"/>
<path d="M1164.4 1447.5V1481.1" stroke="#000000" stroke-width="5.0" fill="none"/>
<path d="M1157.5 1447.5h13.8M1157.5 1481.1h13.8" stroke="#000000" stroke-width="5.0" fill="none"/>
<path d="M1196 1435.3V1469.7" stroke="#000000" stroke-width="5.0" fill="none"/>
<path d="M1189.1 1435.3h13.8M1189.1 1469.7h13.8" stroke="#000000" stroke-width="5.0" fill="none"/>
<circle cx="816.8" cy="1703" r="7.4" fill="#000000"/>
<circle cx="848.4" cy="1686.9" r="7.4" fill="#000000"/>
<circle cx="880" cy="1668" r="7.4" fill="#000000"/>
<circle cx="911.6" cy="1647.7" r="7.4" fill="#000000"/>
<circle cx="943.2" cy="1627.6" r="7.4" fill="#000000"/>
<circle cx="974.8" cy="1605.3" r="7.4" fill="#000000"/>
<circle cx="1006.4" cy="1583.4" r="7.4" fill="#000000"/>
<circle cx="1038" cy="1559.2" r="7.4" fill="#000000"/>
<circle cx="1069.6" cy="1536.8" r="7.4" fill="#000000"/>
<circle cx="1101.2" cy="1514.5" r="7.4" fill="#000000"/>
<circle cx="1132.8" cy="1489" r="7.4" fill="#000000"/>
<circle cx="1164.4" cy="1464.3" r="7.4" fill="#000000"/>
<circle cx="1196" cy="1452.5" r="7.4" fill="#000000"/>
<path d="M816.8 1703L848.4 1690.6L880 1673.2L911.6 1655.8L943.2 1638.6L974.8 1621.2L1006.4 1601.8L1038 1582.1L1069.6 1561.6L1101.2 1541L1132.8 1517.9L1164.4 1495.5L1196 1483.9" stroke="#1D93AD" stroke-width="3.5" fill="none" stroke-linejoin="round"/>
<path d="M974.8 1617V1625.4" stroke="#1D93AD" stroke-width="5.0" fill="none"/>
<path d="M967.9 1617h13.8M967.9 1625.4h13.8" stroke="#1D93AD" stroke-width="5.0" fill="none"/>
<path d="M1006.4 1597.2V1606.4" stroke="#1D93AD" stroke-width="5.0" fill="none"/>
<path d="M999.5 1597.2h13.8M999.5 1606.4h13.8" stroke="#1D93AD" stroke-width="5.0" fill="none"/>
<path d="M1038 1576.9V1587.3" stroke="#1D93AD" stroke-width="5.0" fill="none"/>
<path d="M1031.1 1576.9h13.8M1031.1 1587.3h13.8" stroke="#1D93AD" stroke-width="5.0" fill="none"/>
<path d="M1069.6 1555.2V1568" stroke="#1D93AD" stroke-width="5.0" fill="none"/>
<path d="M1062.7 1555.2h13.8M1062.7 1568h13.8" stroke="#1D93AD" stroke-width="5.0" fill="none"/>
<path d="M1101.2 1533V1549" stroke="#1D93AD" stroke-width="5.0" fill="none"/>
<path d="M1094.3 1533h13.8M1094.3 1549h13.8" stroke="#1D93AD" stroke-width="5.0" fill="none"/>
<path d="M1132.8 1508.3V1527.5" stroke="#1D93AD" stroke-width="5.0" fill="none"/>
<path d="M1125.9 1508.3h13.8M1125.9 1527.5h13.8" stroke="#1D93AD" stroke-width="5.0" fill="none"/>
<path d="M1164.4 1483V1508" stroke="#1D93AD" stroke-width="5.0" fill="none"/>
<path d="M1157.5 1483h13.8M1157.5 1508h13.8" stroke="#1D93AD" stroke-width="5.0" fill="none"/>
<path d="M1196 1470.7V1497.1" stroke="#1D93AD" stroke-width="5.0" fill="none"/>
<path d="M1189.1 1470.7h13.8M1189.1 1497.1h13.8" stroke="#1D93AD" stroke-width="5.0" fill="none"/>
<path d="M816.8 1696.2L824.2 1709.2H809.4Z" fill="#1D93AD"/>
<path d="M848.4 1683.8L855.8 1696.8H841Z" fill="#1D93AD"/>
<path d="M880 1666.4L887.4 1679.4H872.6Z" fill="#1D93AD"/>
<path d="M911.6 1649L919 1662H904.2Z" fill="#1D93AD"/>
<path d="M943.2 1631.8L950.6 1644.8H935.8Z" fill="#1D93AD"/>
<path d="M974.8 1614.4L982.2 1627.4H967.4Z" fill="#1D93AD"/>
<path d="M1006.4 1595L1013.8 1608H999Z" fill="#1D93AD"/>
<path d="M1038 1575.3L1045.4 1588.3H1030.6Z" fill="#1D93AD"/>
<path d="M1069.6 1554.8L1077 1567.8H1062.2Z" fill="#1D93AD"/>
<path d="M1101.2 1534.2L1108.6 1547.2H1093.8Z" fill="#1D93AD"/>
<path d="M1132.8 1511.1L1140.2 1524.1H1125.4Z" fill="#1D93AD"/>
<path d="M1164.4 1488.7L1171.8 1501.7H1157Z" fill="#1D93AD"/>
<path d="M1196 1477.1L1203.4 1490.1H1188.6Z" fill="#1D93AD"/>
<path d="M816.8 1703L848.4 1688.2L880 1669.3L911.6 1649.3L943.2 1630.7L974.8 1609.3L1006.4 1588.4L1038 1565.2L1069.6 1543.8L1101.2 1522.4L1132.8 1497.5L1164.4 1474L1196 1463.9" stroke="#FB9B36" stroke-width="3.5" fill="none" stroke-linejoin="round"/>
<path d="M974.8 1604.2V1614.4" stroke="#FDA040" stroke-width="5.0" fill="none"/>
<path d="M967.9 1604.2h13.8M967.9 1614.4h13.8" stroke="#FDA040" stroke-width="5.0" fill="none"/>
<path d="M1006.4 1581.6V1595.2" stroke="#FDA040" stroke-width="5.0" fill="none"/>
<path d="M999.5 1581.6h13.8M999.5 1595.2h13.8" stroke="#FDA040" stroke-width="5.0" fill="none"/>
<path d="M1038 1556.9V1573.5" stroke="#FDA040" stroke-width="5.0" fill="none"/>
<path d="M1031.1 1556.9h13.8M1031.1 1573.5h13.8" stroke="#FDA040" stroke-width="5.0" fill="none"/>
<path d="M1069.6 1534.2V1553.4" stroke="#FDA040" stroke-width="5.0" fill="none"/>
<path d="M1062.7 1534.2h13.8M1062.7 1553.4h13.8" stroke="#FDA040" stroke-width="5.0" fill="none"/>
<path d="M1101.2 1511V1533.8" stroke="#FDA040" stroke-width="5.0" fill="none"/>
<path d="M1094.3 1511h13.8M1094.3 1533.8h13.8" stroke="#FDA040" stroke-width="5.0" fill="none"/>
<path d="M1132.8 1485.3V1509.7" stroke="#FDA040" stroke-width="5.0" fill="none"/>
<path d="M1125.9 1485.3h13.8M1125.9 1509.7h13.8" stroke="#FDA040" stroke-width="5.0" fill="none"/>
<path d="M1164.4 1461.2V1486.8" stroke="#FDA040" stroke-width="5.0" fill="none"/>
<path d="M1157.5 1461.2h13.8M1157.5 1486.8h13.8" stroke="#FDA040" stroke-width="5.0" fill="none"/>
<path d="M1196 1450.5V1477.3" stroke="#FDA040" stroke-width="5.0" fill="none"/>
<path d="M1189.1 1450.5h13.8M1189.1 1477.3h13.8" stroke="#FDA040" stroke-width="5.0" fill="none"/>
<rect x="809.4" y="1695.6" width="14.8" height="14.8" fill="#FDA040"/>
<rect x="841" y="1680.8" width="14.8" height="14.8" fill="#FDA040"/>
<rect x="872.6" y="1661.9" width="14.8" height="14.8" fill="#FDA040"/>
<rect x="904.2" y="1641.9" width="14.8" height="14.8" fill="#FDA040"/>
<rect x="935.8" y="1623.3" width="14.8" height="14.8" fill="#FDA040"/>
<rect x="967.4" y="1601.9" width="14.8" height="14.8" fill="#FDA040"/>
<rect x="999" y="1581" width="14.8" height="14.8" fill="#FDA040"/>
<rect x="1030.6" y="1557.8" width="14.8" height="14.8" fill="#FDA040"/>
<rect x="1062.2" y="1536.4" width="14.8" height="14.8" fill="#FDA040"/>
<rect x="1093.8" y="1515" width="14.8" height="14.8" fill="#FDA040"/>
<rect x="1125.4" y="1490.1" width="14.8" height="14.8" fill="#FDA040"/>
<rect x="1157" y="1466.6" width="14.8" height="14.8" fill="#FDA040"/>
<rect x="1188.6" y="1456.5" width="14.8" height="14.8" fill="#FDA040"/>
<path d="M868.1 1343.8h37" stroke="#FB9B36" stroke-width="3.5" fill="none"/>
<rect x="879.2" y="1336.4" width="14.8" height="14.8" fill="#FDA040"/>
<text x="927.2" y="1353.2" font-size="27" letter-spacing="0.35" stroke="#fff" stroke-width="0.2">Ctl</text>
<path d="M868.1 1383.8h37" stroke="#1D93AD" stroke-width="3.5" fill="none"/>
<path d="M886.6 1377L894 1390H879.2Z" fill="#1D93AD"/>
<text x="927.2" y="1393.2" font-size="27" letter-spacing="0.35" stroke="#fff" stroke-width="0.2">Old</text>
<path d="M868.1 1423.8h37" stroke="#000000" stroke-width="3.5" fill="none"/>
<circle cx="886.6" cy="1423.8" r="7.4" fill="#000000"/>
<text x="927.2" y="1433.2" font-size="27" letter-spacing="0.35" stroke="#fff" stroke-width="0.2">Old+TUDCA</text>
</g>
<g id="panelH">
<text x="1320.5" y="1311" font-size="49.5" font-weight="700">H</text>
<path d="M1467.4 1703V1467.1H1543.7V1703" fill="#FDA040" stroke="#000" stroke-width="5.0" stroke-linejoin="round"/>
<path d="M1583.1 1703V1483.9H1658.8V1703" fill="#119AB3" stroke="#000" stroke-width="5.0" stroke-linejoin="round"/>
<path d="M1696.7 1703V1454.8H1773.5V1703" fill="#000000" stroke="#000" stroke-width="5.0" stroke-linejoin="round"/>
<path d="M1505.6 1467V1453.2M1486.6 1453.2h38" stroke="#000" stroke-width="5.0" fill="none"/>
<path d="M1620.6 1484V1465.1M1601.6 1465.1h38" stroke="#000" stroke-width="5.0" fill="none"/>
<path d="M1735.3 1455V1438.7M1716.3 1438.7h38" stroke="#000" stroke-width="5.0" fill="none"/>
<path d="M1448.1 1351.4V1705.15" stroke="#000" stroke-width="4.3" fill="none"/>
<path d="M1445.95 1703H1793.6" stroke="#000" stroke-width="4.3" fill="none"/>
<text x="1433.85" y="1711.1" font-size="25.3" font-weight="700" text-anchor="end" letter-spacing="0.55">0.000</text>
<text x="1433.85" y="1623.7" font-size="25.3" font-weight="700" text-anchor="end" letter-spacing="0.55">0.002</text>
<text x="1433.85" y="1536.3" font-size="25.3" font-weight="700" text-anchor="end" letter-spacing="0.55">0.004</text>
<text x="1433.85" y="1448.9" font-size="25.3" font-weight="700" text-anchor="end" letter-spacing="0.55">0.006</text>
<text x="1433.85" y="1361.5" font-size="25.3" font-weight="700" text-anchor="end" letter-spacing="0.55">0.008</text>
<path d="M1438.3 1703H1448.1M1438.3 1615.6H1448.1M1438.3 1528.2H1448.1M1438.3 1440.8H1448.1M1438.3 1353.4H1448.1M1505.6 1703V1712.8M1620.6 1703V1712.8M1735.3 1703V1712.8" stroke="#000" stroke-width="4.0" fill="none"/>
<text x="1505.5" y="1739.4" font-size="25" font-weight="700" text-anchor="middle" letter-spacing="1">Ctl</text>
<text x="1616.5" y="1739.4" font-size="25" font-weight="700" text-anchor="middle" letter-spacing="1">Old</text>
<text x="1734.2" y="1739.4" font-size="25" font-weight="700" text-anchor="middle" letter-spacing="1">Old+TUDCA</text>
<text transform="translate(1318.9 1529) rotate(-90) scale(1 1.06)" font-size="28" font-weight="700" text-anchor="middle" stroke="#fff" stroke-width="0.4" letter-spacing="0.2">IDE Activity</text>
<text transform="translate(1353.8 1527.2) rotate(-90) scale(1 1.06)" font-size="28" font-weight="700" text-anchor="middle" stroke="#fff" stroke-width="0.4" letter-spacing="0.62">(per ug Total Protein)</text>
<rect x="1705" y="1433" width="21.4" height="3" fill="#19f3f5"/>
<path d="M1759 1543.9h17M1759 1554.4h10.2M1759 1567.8h10.2M1759 1573.1h10.2M1759 1594.2h10.2" stroke="#f80a0a" stroke-width="3.1" fill="none"/>
</g>
<g id="panelI">
<text x="21" y="1878.6" font-size="49.5" font-weight="700">I</text>
<path d="M183.7 2309.9V2292.2H260.6V2309.9" fill="#FDA040" stroke="#000" stroke-width="5.0" stroke-linejoin="round"/>
<path d="M300.3 2309.9V2294.4H377.6V2309.9" fill="#119AB3" stroke="#000" stroke-width="5.0" stroke-linejoin="round"/>
<path d="M417.3 2309.9V2279.5H494.9V2309.9" fill="#000000" stroke="#000" stroke-width="5.0" stroke-linejoin="round"/>
<path d="M613.1 2309.9V2195.9H690V2309.9" fill="#FDA040" stroke="#000" stroke-width="5.0" stroke-linejoin="round"/>
<path d="M729.6 2309.9V2022.6H807V2309.9" fill="#119AB3" stroke="#000" stroke-width="5.0" stroke-linejoin="round"/>
<path d="M846.3 2309.9V2061.3H924.3V2309.9" fill="#000000" stroke="#000" stroke-width="5.0" stroke-linejoin="round"/>
<path d="M221.8 2290V2286.4M202.7 2286.4h38.2" stroke="#000" stroke-width="2.9" fill="none"/>
<path d="M338.6 2292V2289.9M319.5 2289.9h38.2" stroke="#000" stroke-width="2.9" fill="none"/>
<path d="M455.5 2278V2274.8M436.4 2274.8h38.2" stroke="#000" stroke-width="2.9" fill="none"/>
<path d="M650.9 2195V2157.2M631.8 2157.2h38.2" stroke="#000" stroke-width="2.9" fill="none"/>
<path d="M767.9 2022V1965M748.8 1965h38.2" stroke="#000" stroke-width="2.9" fill="none"/>
<path d="M884.7 2060V2034.6M865.6 2034.6h38.2" stroke="#000" stroke-width="2.9" fill="none"/>
<path d="M123.4 1893.3V2312.05" stroke="#000" stroke-width="4.3" fill="none"/>
<path d="M121.25 2309.9H984.6" stroke="#000" stroke-width="4.3" fill="none"/>
<text x="109.65" y="2318.7" font-size="25.3" font-weight="700" text-anchor="end" letter-spacing="0.55">0</text>
<text x="109.65" y="2215.05" font-size="25.3" font-weight="700" text-anchor="end" letter-spacing="0.55">1</text>
<text x="109.65" y="2111.4" font-size="25.3" font-weight="700" text-anchor="end" letter-spacing="0.55">2</text>
<text x="109.65" y="2007.75" font-size="25.3" font-weight="700" text-anchor="end" letter-spacing="0.55">3</text>
<text x="109.65" y="1904.1" font-size="25.3" font-weight="700" text-anchor="end" letter-spacing="0.55">4</text>
<path d="M113.6 2309.9H123.4M113.6 2206.25H123.4M113.6 2102.6H123.4M113.6 1998.95H123.4M113.6 1895.3H123.4M338.3 2309.9V2319.7M768 2309.9V2319.7" stroke="#000" stroke-width="4.0" fill="none"/>
<text x="339.3" y="2350.4" font-size="28.2" font-weight="700" text-anchor="middle" letter-spacing="0.1">2.8 mM glucose</text>
<text x="766.3" y="2350.6" font-size="28.2" font-weight="700" text-anchor="middle" letter-spacing="0.1">11.1 mM glucose</text>
<text transform="translate(23.6 2102.2) rotate(-90) scale(1 1.06)" font-size="28" font-weight="700" text-anchor="middle" stroke="#fff" stroke-width="0.4" letter-spacing="0.2">Insulin Secretion</text>
<text transform="translate(57.2 2101.6) rotate(-90) scale(1 1.06)" font-size="28" font-weight="700" text-anchor="middle" stroke="#fff" stroke-width="0.4" letter-spacing="0.25">(ng/islet.h)</text>
<rect x="197.9" y="1904.3" width="38.8" height="18.6" rx="2" fill="#FDA040" stroke="#000" stroke-width="4.5" stroke-linejoin="round"/>
<text x="256.4" y="1922.5" font-size="27" letter-spacing="0.4" stroke="#fff" stroke-width="0.2">Ctl</text>
<rect x="197.9" y="1941.9" width="38.8" height="18.6" rx="2" fill="#119AB3" stroke="#000" stroke-width="4.5" stroke-linejoin="round"/>
<text x="256.4" y="1960.1" font-size="27" letter-spacing="0.4" stroke="#fff" stroke-width="0.2">Old</text>
<rect x="197.9" y="1979.5" width="38.8" height="18.6" rx="2" fill="#000000" stroke="#000" stroke-width="4.5" stroke-linejoin="round"/>
<text x="256.4" y="1997.7" font-size="27" letter-spacing="0.4" stroke="#fff" stroke-width="0.2">Old+TUDCA</text>
<text x="651.8" y="2152" font-size="30" text-anchor="middle">a</text>
<text x="768.6" y="1958.8" font-size="30" text-anchor="middle">b</text>
<text x="886.6" y="2027.5" font-size="30" text-anchor="middle">b</text>
</g>
<g id="panelJ">
<text x="1095" y="1911.4" font-size="49.5" font-weight="700">J</text>
<path d="M1268.3 2309.9V2130.8H1383.8V2309.9" fill="#FDA040" stroke="#000" stroke-width="5.0" stroke-linejoin="round"/>
<path d="M1443.7 2309.9V2094.1H1558.1V2309.9" fill="#119AB3" stroke="#000" stroke-width="5.0" stroke-linejoin="round"/>
<path d="M1618.9 2309.9V2105.9H1733.6V2309.9" fill="#000000" stroke="#000" stroke-width="5.0" stroke-linejoin="round"/>
<path d="M1326.3 2130V2101.7M1297.1 2101.7h58.4" stroke="#000" stroke-width="5.0" fill="none"/>
<path d="M1500.9 2094V2039.5M1471.7 2039.5h58.4" stroke="#000" stroke-width="5.0" fill="none"/>
<path d="M1676.4 2105V2050.2M1647.2 2050.2h58.4" stroke="#000" stroke-width="5.0" fill="none"/>
<path d="M1239 1958.51V2312.05" stroke="#000" stroke-width="4.3" fill="none"/>
<path d="M1236.85 2309.9H1765" stroke="#000" stroke-width="4.3" fill="none"/>
<text x="1223.75" y="2318" font-size="25.3" font-weight="700" text-anchor="end" letter-spacing="0.55">0</text>
<text x="1223.75" y="2201.53" font-size="25.3" font-weight="700" text-anchor="end" letter-spacing="0.55">500</text>
<text x="1223.75" y="2085.07" font-size="25.3" font-weight="700" text-anchor="end" letter-spacing="0.55">1000</text>
<text x="1223.75" y="1968.61" font-size="25.3" font-weight="700" text-anchor="end" letter-spacing="0.55">1500</text>
<path d="M1229.2 2309.9H1239M1229.2 2193.43H1239M1229.2 2076.97H1239M1229.2 1960.51H1239M1326.3 2309.9V2319.7M1500.9 2309.9V2319.7M1676.4 2309.9V2319.7" stroke="#000" stroke-width="4.0" fill="none"/>
<text x="1326.2" y="2346.8" font-size="25" font-weight="700" text-anchor="middle" letter-spacing="1">Ctl</text>
<text x="1500.7" y="2346.8" font-size="25" font-weight="700" text-anchor="middle" letter-spacing="1">Old</text>
<text x="1675.5" y="2346.8" font-size="25" font-weight="700" text-anchor="middle" letter-spacing="1">Old+TUDCA</text>
<text transform="translate(1118.6 2133.7) rotate(-90) scale(1 1.06)" font-size="28" font-weight="700" text-anchor="middle" stroke="#fff" stroke-width="0.4" letter-spacing="0.2">Insulin Content</text>
<text transform="translate(1152.6 2133.7) rotate(-90) scale(1 1.06)" font-size="28" font-weight="700" text-anchor="middle" stroke="#fff" stroke-width="0.4" letter-spacing="0.25">(ng/islet.h)</text>
<rect x="1783" y="1944" width="6.6" height="2" fill="#3fe9ee"/>
</g>
</svg>
</body>
</html>
